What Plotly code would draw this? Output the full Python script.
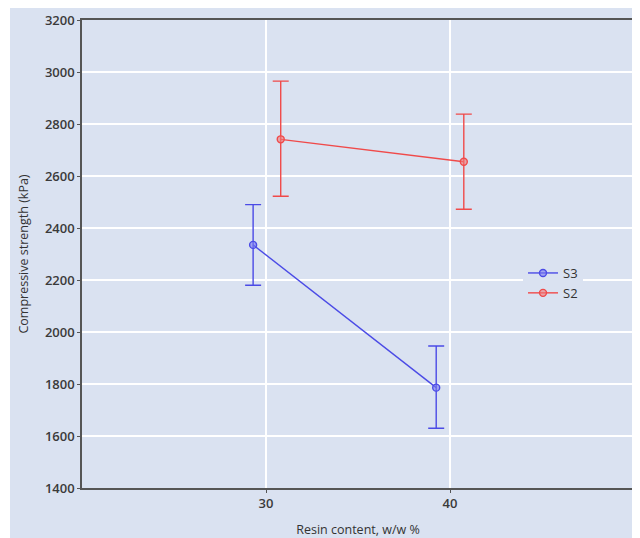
import plotly.graph_objects as go

# Data
series_names = ["S3", "S2"]
s3_x = [29.3, 39.25]
s3_y = [2335, 1786]
s3_err_plus = [155, 160]
s3_err_minus = [155, 156]
s2_x = [30.8, 40.75]
s2_y = [2741, 2655]
s2_err_plus = [224, 183]
s2_err_minus = [219, 183]
x_ticks = [30, 40]
y_ticks = [1400, 1600, 1800, 2000, 2200, 2400, 2600, 2800, 3000, 3200]

BG = "#dae2f1"
BLUE = "#4b4be6"
RED = "#f04a4a"
FONT = "Open Sans"

fig = go.Figure()
fig.add_trace(go.Scatter(
    x=s3_x, y=s3_y, name=series_names[0], mode="lines+markers",
    line=dict(color=BLUE, width=1.4),
    marker=dict(symbol="circle", size=7, color="rgba(120,120,240,0.6)", line=dict(color=BLUE, width=1.4)),
    error_y=dict(type="data", symmetric=False, array=s3_err_plus, arrayminus=s3_err_minus,
                 color=BLUE, thickness=1.4, width=8),
))
fig.add_trace(go.Scatter(
    x=s2_x, y=s2_y, name=series_names[1], mode="lines+markers",
    line=dict(color=RED, width=1.4),
    marker=dict(symbol="circle", size=7, color="rgba(240,120,120,0.6)", line=dict(color=RED, width=1.4)),
    error_y=dict(type="data", symmetric=False, array=s2_err_plus, arrayminus=s2_err_minus,
                 color=RED, thickness=1.4, width=8),
))

# page has an 8px body margin; figure coordinates = page coordinates - 8
FW, FH = 632, 530
L, R, T, B = 74, 626, 12, 480
W, H = R - L, B - T
fig.add_shape(type="rect", xref="paper", yref="paper",
              x0=(2 - L) / W, x1=(FW + 5 - L) / W, y0=(B - FH - 5) / H, y1=(B + 2) / H,
              fillcolor=BG, line=dict(width=0), layer="below")

axis_common = dict(
    showline=True, linecolor="#555555", linewidth=1.5, mirror=True,
    showgrid=True, gridcolor="white", gridwidth=2.2,
    ticks="outside", ticklen=3, tickcolor="#555555",
    tickfont=dict(family=FONT, size=13, color="#3a3a3a", weight=600),
    zeroline=False,
)
fig.update_xaxes(range=[20, 50], tickvals=x_ticks,
                 title=dict(text="Resin content, w/w %", font=dict(family=FONT, size=12.5, color="#333333"), standoff=15),
                 **axis_common)
fig.update_yaxes(range=[1400, 3200], tickvals=y_ticks,
                 title=dict(text="Compressive strength (kPa)", font=dict(family=FONT, size=12.5, color="#333333"), standoff=14),
                 **axis_common)

fig.update_layout(
    width=FW, height=FH,
    margin=dict(l=L, r=FW - R, t=T, b=FH - B, autoexpand=False),
    paper_bgcolor="white", plot_bgcolor=BG,
    showlegend=True,
    legend=dict(x=(515 - L) / W, y=(B - 250) / H, xanchor="left", yanchor="top",
                bgcolor=BG, font=dict(family=FONT, size=13, color="#333333"),
                tracegroupgap=0, itemwidth=30),
    font=dict(family=FONT),
)

fig.write_html("out.html")
